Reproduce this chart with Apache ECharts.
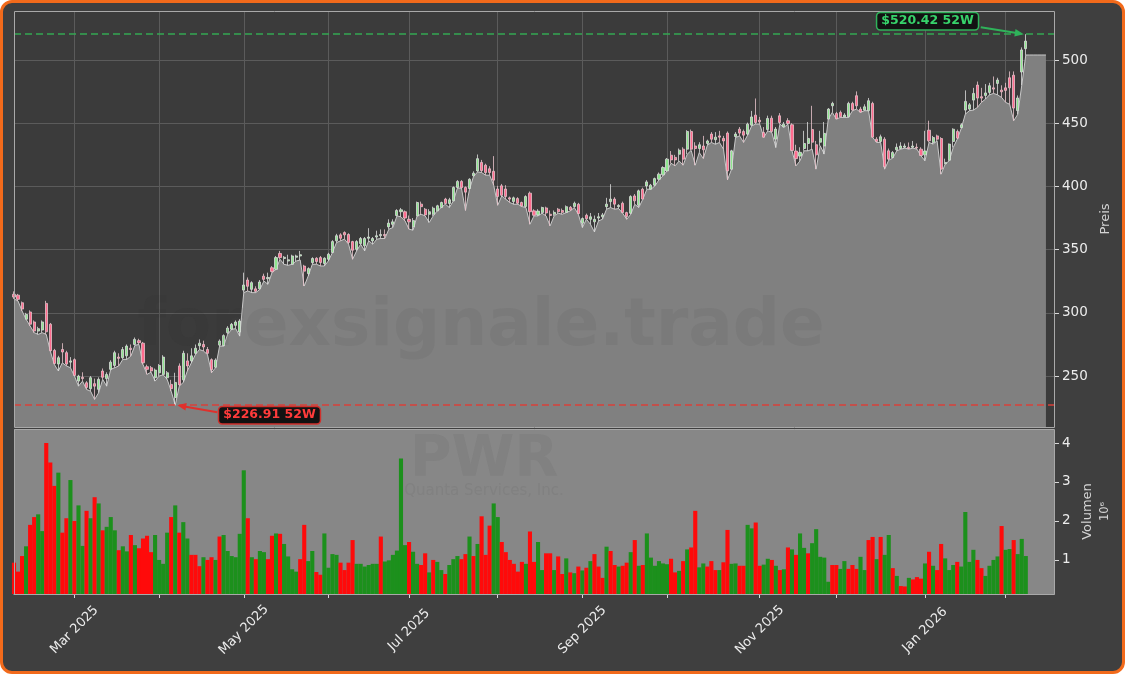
<!DOCTYPE html>
<html><head><meta charset="utf-8">
<script src="https://cdn.jsdelivr.net/npm/echarts@6/dist/echarts.min.js"></script>
<style>
html,body{margin:0;padding:0;background:#ffffff;}
#frame{position:absolute;left:0;top:0;width:1125px;height:674px;box-sizing:border-box;border:3px solid #f26a1b;border-radius:12px;background:#3f3f3f;}
#chart{position:absolute;left:0;top:0;width:1125px;height:674px;}
</style></head><body>
<div id="frame"></div><div id="chart"></div>
<script>
// ---------------- DATA ----------------
const START_DATE = '2025-02-07';
const HOLIDAYS = ['2025-02-17','2025-04-18','2025-05-26','2025-06-19','2025-07-04','2025-09-01','2025-11-27','2025-12-25','2026-01-01','2026-01-19','2026-02-16'];
const N_CATEGORIES = 259;
const MONTHS = ['Jan','Feb','Mar','Apr','May','Jun','Jul','Aug','Sep','Oct','Nov','Dec'];

const opens = [
314.7,314,308,295,300.7,292.8,285.6,286.4,307.5,291,
270.3,259.5,271,268.5,261,263,246,249,244.7,240,
244,239.5,254,248,255.3,258.4,265,264.5,266,272,
275,278,276,257.4,256.6,248.7,252.6,251.3,248.6,243.4,
233,258,247,262,262,268,274,275,271,263,
257,274.5,274,284.3,287,290.1,284.8,318,326,318.6,
319,319,329,327,335.7,334.4,347,343,341,338.4,
344,345,337,331,339.7,343.2,343.7,339,342.4,347.7,
357,361.7,363.5,362,356.4,350.3,354.8,353,359,356.9,
360,361,362,368,370,377,380,380,374,368,
376.7,386,382,378,378,380.7,383.3,390,386.5,388.6,
399.2,404,399.2,398.3,408.4,412.3,419,416.8,414,412,
398,400.5,398,391,388,390.4,387.3,384.1,394.7,380.7,
377.5,379.3,383,378,378,382,381,379.5,383.5,384.1,
385.9,370.9,377.2,374,372,375,376,384,388,390,
384,386.7,379.3,378.8,392.5,385.1,397.8,400.4,397.8,401,
405.7,409.2,412.3,424.7,423,425.5,429.5,429.5,443.5,432,
430,432,434,441.4,437,440,438,442.2,413.6,439.5,
445.3,443.5,441.4,448.5,456.4,452.4,442.7,445,454,437.4,
455.9,447.2,452,448.8,428,424,430,434,445,433,
435,432,453.3,463.8,457.8,458.6,455,455.1,465.7,471.8,
461.2,460.4,459.9,465.7,437.4,435.6,437.4,428.2,422.9,429,
430,431,431,431,431,429.5,425,444.5,434.8,440,
437.9,418,420.8,435.6,443.5,446.5,460.4,461.2,468.3,480.2,
471,472,474.4,478,481.5,476.2,478,486,488,460,
490.5,509];

const highs = [
317,315,309,300,302,294,289,294,309.5,292,
271.5,266,276,270,265,264,251,253,246,250,
248,249,256,253,262.5,270,268,273,275,275,
280.5,279.5,277,259,258,256,259.5,266.5,254,247,
252.6,260,270,268,272,275,279,278,273,264,
264,279,283,289.5,292,294,295,331.8,328,325,
321,326,331,331.8,337,345,349,345,346,346,
346,349,338,336,344,344,345,344,347.5,357.5,
362.5,363,364.5,363,357,357.5,360,360,367,360,
365,366,366,374,374,382,383,381,377,375,
388,388,383,382,384,385.5,388,391,391,400,
405,405,400,406.5,412,425.3,421,418,416,424,
400.5,402,401,392,392,391.5,388,393,396,382,
382,384,384,381,381,383,382.5,385,384.5,388,
387,375.5,378.5,379,377,379,379,391,401.8,391.5,
386,388,380,393,394,397.5,399,405,402,407,
411,416,422.5,428,425,430,431,444.5,445,435,
435,440,437,443,443,444,440,443.5,429,443,
447,445,450.5,459.8,469.6,455,447,456,456,447,
458,451,454,450,433,431,444,451,463.8,436,
444,451,462,467,459,460,458,467,467,475.2,
463,465,470,467,439,441,439,430,428,434,
435,434,434.8,436,434,431,444,452,440,441,
439,422,434,446,445,450,476,466,478,483,
478,481,482,487,486,480,482,491,491,472,
510,520.42];

const lows = [
311,309.4,301.5,294.9,289.6,284.3,283,284.3,283,269.8,
259.2,254,260.5,258,256.6,250,242,246,239.4,238,
231.5,236.8,247.4,242,255.3,256.6,258,263.2,263.2,265.8,
274.3,275,259.2,251.3,253.1,246,250,251,247.4,238,
226.91,242,245,254,260.5,267,271,269.8,267,252.6,
256.6,273.7,273.7,283,287,287.5,281.6,316,317.3,316,
316,318.6,325.2,322.6,331.8,334.4,342.4,338.4,337.6,338.4,
341,341.8,321.2,329.2,338.4,338.5,337.1,337.1,341.1,347.7,
355.6,357,358.3,354.3,342.4,349,354.3,349,357,354.3,
358.3,358.8,358.8,366.2,367.5,376.7,376,372.8,366.2,365.4,
376.7,378,376.7,371.5,376.7,380.7,383.3,386,383.3,388.6,
398.7,398.7,381,397.8,407.9,411.5,411,408.9,408.9,401,
385.1,392.5,389.9,387.3,385.9,385.9,384.1,383.3,370.1,376.7,
376.7,378.8,376.7,368.8,376.7,378.8,378,379.3,380.7,383.3,
378,367.5,374.1,370.1,364,372.7,374.1,382,383.3,382,
382.5,378.8,374,378,385.9,383.3,389.9,397.8,397.8,400.4,
405.2,408.4,412.3,418.4,416.3,420.2,416.8,425.5,428.5,416.8,
426.8,422.1,432.6,434.8,433.4,434.8,429.5,405.2,413.6,438.7,
440,434.8,440.6,448,449.3,449.3,438.8,444,442.7,430.8,
449.3,446.7,449.3,428.2,416.3,420.3,428.2,428.2,429.5,413.7,
432.2,425.6,453.3,458.6,453.3,454.6,454.6,454.6,459.9,461.2,
458.6,459.9,459.9,438.8,434.8,434.8,413.7,420.8,422.4,428.2,
429.5,430.3,429.5,430.3,429.5,424.2,420.3,434.8,433.5,436.1,
409.7,417.6,420.3,430.8,437.4,446,457.2,459.9,460.4,462.5,
466.5,469.1,472.5,473.6,472.5,470.4,466.5,465,452,457,
480,504];

const closes = [
312.5,310.7,303,298.8,291,285.6,287.5,292.8,285,270,
260,264.5,269,259.5,262,250.5,250,248,241,248.7,
242,247.4,249,251.3,261,268.5,264,271,273.7,271,
279,276.4,260.5,255.3,254,254.7,258.4,265,252.6,240,
245,243,268,258,266,272,276,273,268,255,
262.6,277.7,282,288,290.9,292.7,293.5,322,321,323.9,
317,324.4,326.5,328,332.6,343.7,343.7,344,342,345,
345,346,333,335,343,340.6,339.8,343.2,346.4,356.4,
361,359,361.7,355.6,349.5,356.4,358.8,358.8,360,358.8,
361,362,361,371,372,381,381.5,375,372,373,
387.3,384,377.5,380,382.8,384.7,387.3,386.5,389.5,399.2,
404,399,395.5,405.7,410.5,422,412.5,411,411,405,
392,393,392,390,391,386.7,384.6,392,380,377.2,
380.5,383.3,379,377,379.5,380,379.5,384,381.5,386.7,
378.5,374.6,374.5,376,374,376,377.5,386,390,386,
385,379.3,376.2,392,388.6,396.5,390,403.6,401,406.2,
409.7,415,421.6,421,421,428.7,421.6,443.5,429.5,430,
433,429,436,437.4,439,439,436,412.3,428.2,441.4,
442.2,440.6,449.3,455,450.6,451.1,439,453.8,443.5,445.4,
450.6,449.3,449.8,428.5,422,427,434,438,435,425,
438,442,461.2,465.7,453.5,455.1,456.5,465.7,460.4,463.8,
458.8,463,467.8,439,435.6,439.3,415.5,421.6,426.9,431,
432,432,430,432,430.5,424.5,428,436.1,438.7,437.4,
413.7,419,433.5,445.3,438.2,448.8,467.3,464.6,473.6,469.9,
469.9,474,479.7,477,484.2,474.9,476,478,462,470,
508,515];

// low held after the last session (area continues flat)
const lowTail = [504,504,504,504,504];

// volume in millions
const volumes = [
0.93,0.70,1.1,1.35,1.9,2.1,2.17,1.74,4.0,3.5,
2.9,3.24,1.7,2.07,3.05,2.0,2.4,1.36,2.26,2.07,
2.61,2.45,1.76,1.85,2.1,1.76,1.25,1.35,1.22,1.64,
1.38,1.3,1.55,1.62,1.2,1.64,1.0,0.9,1.7,2.1,
2.4,1.7,1.97,1.55,1.13,1.13,0.84,1.07,1.0,1.07,
1.0,1.6,1.64,1.23,1.1,1.07,1.67,3.3,2.07,1.07,
1.02,1.23,1.2,1.02,1.62,1.68,1.67,1.41,1.09,0.76,
0.7,1.02,1.9,0.97,1.23,0.69,0.62,1.68,0.8,1.15,
1.13,0.93,0.74,0.93,1.51,0.9,0.9,0.83,0.87,0.9,
0.9,1.6,0.96,0.99,1.13,1.24,3.6,1.38,1.46,1.21,
0.9,0.87,1.17,0.68,1.0,0.95,0.74,0.64,0.87,1.02,
1.1,1.02,1.15,1.6,1.1,1.41,2.12,1.13,1.88,2.45,
2.1,1.46,1.2,1.0,0.9,0.7,0.95,0.9,1.73,0.95,
1.46,0.74,1.17,1.17,0.74,1.09,0.64,1.04,0.68,0.66,
0.83,0.73,0.80,0.97,1.15,0.83,0.54,1.34,1.23,0.87,
0.83,0.85,0.93,1.2,1.51,0.85,0.87,1.68,1.06,0.85,
0.97,0.91,0.89,1.03,0.68,0.72,0.97,1.27,1.32,2.26,
0.81,0.91,0.83,0.97,0.74,0.74,0.94,1.77,0.9,0.91,
0.85,0.85,1.9,1.81,1.96,0.85,0.88,1.03,1.0,0.85,
0.74,0.76,1.32,1.27,1.13,1.68,1.31,1.17,1.43,1.79,
1.08,1.06,0.44,0.87,0.87,0.77,0.97,0.77,0.87,0.77,
1.08,0.74,1.51,1.59,1.02,1.59,1.13,1.64,0.79,0.59,
0.33,0.32,0.54,0.5,0.56,0.52,0.91,1.21,0.85,0.74,
1.41,1.04,0.74,0.87,0.95,0.83,2.23,0.95,1.26,1.0,
0.79,0.59,0.85,1.0,1.09,1.87,1.26,1.28,1.51,1.15,
1.54,1.1];

// volume bar colour per session: g = green, r = red
const volDir =
'rrrgrrggrr'+'rgrrgrggrg'+'rgrgggrggr'+'grrrrggggr'+'grggrrrgrr'+
'grggggggrg'+'rggrrgrggg'+'grrggrrggg'+'grrrrggggg'+'grggggggrg'+
'grrgrggrgg'+'grrgrgrrrg'+'grrrrrrgrr'+'ggrrgrrgrg'+'rgrgrrrgrr'+
'grrgrgrggg'+'gggrrgrgrr'+'ggrrrgrrgg'+'rrggrrggrg'+'rgrgrggrgg'+
'gggrrggrrr'+'ggrrgrggrg'+'rrgrrrgrgr'+'rgggrggggr'+'rggggrggrg'+'gg';

const HIGH_52W = 520.42;
const LOW_52W = 226.91;
const priceTicks = [250,300,350,400,450,500];
const volumeTicks = [1,2,3,4];

// ---------------- BUILD ----------------
function tradingDays(start, holidays, n){
  const out=[]; const d=new Date(start+'T00:00:00Z');
  while(out.length<n){
    const dow=d.getUTCDay(); const s=d.toISOString().slice(0,10);
    if(dow!==0&&dow!==6&&holidays.indexOf(s)<0) out.push(s);
    d.setUTCDate(d.getUTCDate()+1);
  }
  return out;
}
const cats = tradingDays(START_DATE, HOLIDAYS, N_CATEGORIES);
function monthStart(i){ return i>0 && cats[i].slice(5,7)!==cats[i-1].slice(5,7); }
function labelMonth(i){ return monthStart(i) && (parseInt(cats[i].slice(5,7),10)-1)%2===0; }

const candleData = opens.map((o,i)=>[o, closes[i], lows[i], highs[i]]);
const areaData = lows.concat(lowTail);
const hiIdx = highs.indexOf(Math.max.apply(null, highs));
const loIdx = lows.indexOf(Math.min.apply(null, lows));
const volData = volumes.map((v,i)=>({value:v, itemStyle:{color: volDir[i]==='g' ? '#1c901c' : '#ff0a0a'}}));

const FONT = 'DejaVu Sans';
const G0 = {left:14, top:11, width:1040, height:416};
const G1 = {left:14, top:429, width:1040, height:165};

const chart = echarts.init(document.getElementById('chart'), null, {renderer:'canvas'});
const option = {
  animation:false,
  backgroundColor:'transparent',
  textStyle:{fontFamily:FONT},
  grid:[
    Object.assign({show:true, backgroundColor:'#3b3b3b', borderWidth:0}, G0),
    Object.assign({show:true, backgroundColor:'#878787', borderWidth:0}, G1)
  ],
  xAxis:[
    {type:'category', gridIndex:0, data:cats, boundaryGap:false,
     axisLine:{show:false}, axisTick:{show:false}, axisLabel:{show:false},
     splitLine:{show:true, interval:(i)=>monthStart(i), lineStyle:{color:'#5b5b5b', width:1}}},
    {type:'category', gridIndex:1, data:cats, boundaryGap:false,
     axisLine:{show:true, lineStyle:{color:'#b8b8b8'}},
     axisTick:{show:true, interval:(i)=>monthStart(i), length:4, lineStyle:{color:'#d8d8d8'}},
     axisLabel:{show:true, interval:(i)=>labelMonth(i), rotate:45, align:'center', verticalAlign:'middle', margin:36,
       color:'#ececec', fontSize:13, fontFamily:FONT,
       formatter:(v)=>MONTHS[parseInt(v.slice(5,7),10)-1]+' '+v.slice(0,4)},
     splitLine:{show:false}}
  ],
  yAxis:[
    {type:'value', gridIndex:0, position:'right', min:209.7, max:538.8, scale:true,
     axisLine:{show:false},
     axisTick:{show:true, length:5, lineStyle:{color:'#d8d8d8'}, customValues:priceTicks},
     axisLabel:{show:true, color:'#ececec', fontSize:13.5, fontFamily:FONT, margin:8, customValues:priceTicks},
     splitLine:{show:true, lineStyle:{color:'#5b5b5b', width:1}},
     name:'Preis', nameLocation:'middle', nameRotate:90, nameGap:41,
     nameTextStyle:{color:'#d4d4d4', fontSize:13, fontFamily:FONT}},
    {type:'value', gridIndex:1, position:'right', min:0.126, max:4.36, scale:true,
     axisLine:{show:false},
     axisTick:{show:true, length:5, lineStyle:{color:'#d8d8d8'}, customValues:volumeTicks},
     axisLabel:{show:true, color:'#ececec', fontSize:13.5, fontFamily:FONT, margin:8, customValues:volumeTicks},
     splitLine:{show:false},
     name:'{a|Volumen}\n{b|10⁶}', nameLocation:'middle', nameRotate:90, nameGap:23,
     nameTextStyle:{color:'#d4d4d4', fontFamily:FONT,
       rich:{a:{fontSize:13, color:'#d4d4d4', fontFamily:FONT, lineHeight:17}, b:{fontSize:11.5, color:'#d4d4d4', fontFamily:FONT, lineHeight:17}}}}
  ],
  series:[
    {type:'line', xAxisIndex:0, yAxisIndex:0, data:areaData, showSymbol:false, symbol:'none',
     lineStyle:{color:'#c9c9c9', width:1}, areaStyle:{color:'#808080', opacity:1, origin:'start'}, z:2, silent:true,
     markLine:{silent:true, symbol:['none','none'], label:{show:false},
       data:[
         {yAxis:HIGH_52W, lineStyle:{color:'#35a853', type:[7,4], width:1.5}},
         {yAxis:LOW_52W, lineStyle:{color:'#d8403a', type:[7,4], width:1.5}}
       ]}},
    {type:'candlestick', xAxisIndex:0, yAxisIndex:0, data:candleData, barWidth:2.6, z:3, silent:true,
     itemStyle:{color:'#8ee68e', color0:'#ff6b8e', borderColor:'#dcdcdc', borderColor0:'#e8c4cc', borderColorDoji:'#dcdcdc', borderWidth:0.8}},
    {type:'bar', xAxisIndex:1, yAxisIndex:1, data:volData, barWidth:4.1, barGap:'0%', z:3, silent:true}
  ]
};
chart.setOption(option);

// ---------------- ANNOTATIONS ----------------
function arrow(x1,y1,x2,y2,color){
  const dx=x2-x1, dy=y2-y1, L=Math.sqrt(dx*dx+dy*dy), ux=dx/L, uy=dy/L, nx=-uy, ny=ux;
  const hl=9, hw=3.8;
  return [
    {type:'line', z:120, shape:{x1:x1,y1:y1,x2:x2-ux*hl*0.8,y2:y2-uy*hl*0.8}, style:{stroke:color, lineWidth:2}},
    {type:'polygon', z:120, shape:{points:[[x2,y2],[x2-ux*hl+nx*hw,y2-uy*hl+ny*hw],[x2-ux*hl-nx*hw,y2-uy*hl-ny*hw]]}, style:{fill:color}}
  ];
}
const hp = chart.convertToPixel({xAxisIndex:0, yAxisIndex:0}, [hiIdx, HIGH_52W]);
const lp = chart.convertToPixel({xAxisIndex:0, yAxisIndex:0}, [loIdx, LOW_52W]);

const WM = 'rgba(40,40,40,0.06)';
const graphics = [
  // watermark
  {type:'text', z:90, silent:true, style:{text:'forexsignale.trade', x:481, y:328, align:'center', verticalAlign:'middle',
     font:'bold 66px "DejaVu Sans"', fill:WM}},
  {type:'text', z:90, silent:true, style:{text:'PWR', x:484, y:461, align:'center', verticalAlign:'middle',
     font:'bold 57px "DejaVu Sans"', fill:WM}},
  {type:'text', z:90, silent:true, style:{text:'Quanta Services, Inc.', x:484, y:491, align:'center', verticalAlign:'middle',
     font:'15px "DejaVu Sans"', fill:WM}},
  // panel frames
  {type:'rect', z:100, silent:true, shape:{x:G0.left+0.5, y:G0.top+0.5, width:G0.width, height:G0.height}, style:{fill:null, stroke:'#a9a9a9', lineWidth:1}},
  {type:'rect', z:100, silent:true, shape:{x:G1.left+0.5, y:G1.top+0.5, width:G1.width, height:G1.height}, style:{fill:null, stroke:'#a9a9a9', lineWidth:1}},
  // 52W high label
  {type:'text', z:130, silent:true, style:{text:'$520.42 52W', x:hp[0]-48, y:hp[1]-13, align:'right', verticalAlign:'middle',
     font:'bold 12.5px "DejaVu Sans"', fill:'#37d36b', backgroundColor:'#121212', borderColor:'#2fb35a', borderWidth:1.5, borderRadius:3, padding:[2,4,1,4]}},
  // 52W low label
  {type:'text', z:130, silent:true, style:{text:'$226.91 52W', x:lp[0]+44, y:lp[1]+10, align:'left', verticalAlign:'middle',
     font:'bold 12.5px "DejaVu Sans"', fill:'#ff3b3b', backgroundColor:'#121212', borderColor:'#d0302c', borderWidth:1.5, borderRadius:3, padding:[2,4,1,4]}}
].concat(arrow(hp[0]-45, hp[1]-7, hp[0]-2, hp[1], '#2fb35a'))
 .concat(arrow(lp[0]+42, lp[1]+7, lp[0]+2, lp[1], '#e0302c'));

chart.setOption({graphic: graphics});
</script>
</body></html>
